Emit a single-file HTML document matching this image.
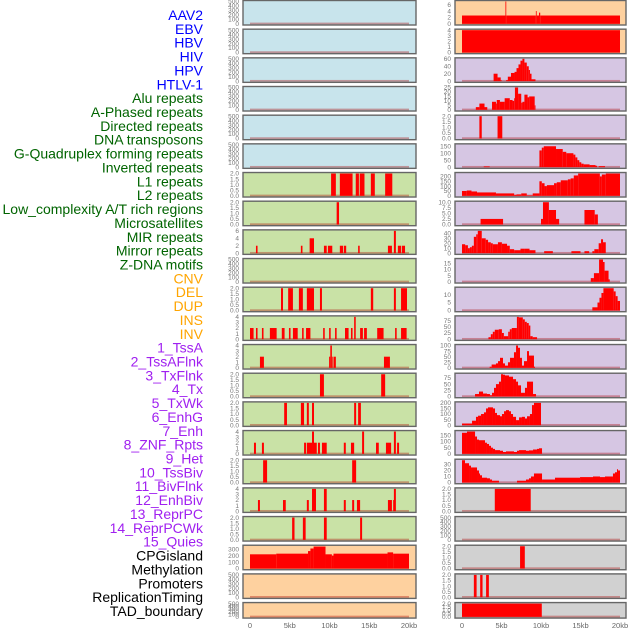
<!DOCTYPE html>
<html><head><meta charset="utf-8">
<style>
html,body{margin:0;padding:0;background:#fff;}
svg{display:block;font-family:"Liberation Sans",sans-serif;}
</style></head>
<body>
<svg id="chart" width="630" height="630" viewBox="0 0 630 630" xmlns="http://www.w3.org/2000/svg"></svg>
<script>
const rowLabels = ["AAV2","EBV","HBV","HIV","HPV","HTLV-1","Alu repeats","A-Phased repeats","Directed repeats","DNA transposons","G-Quadruplex forming repeats","Inverted repeats","L1 repeats","L2 repeats","Low_complexity A/T rich regions","Microsatellites","MIR repeats","Mirror repeats","Z-DNA motifs","CNV","DEL","DUP","INS","INV","1_TssA","2_TssAFlnk","3_TxFlnk","4_Tx","5_TxWk","6_EnhG","7_Enh","8_ZNF_Rpts","9_Het","10_TssBiv","11_BivFlnk","12_EnhBiv","13_ReprPC","14_ReprPCWk","15_Quies","CPGisland","Methylation","Promoters","ReplicationTiming","TAD_boundary"];
const labelGroups = [6,13,5,15,5];
const xTickLabels = ["0","5kb","10kb","15kb","20kb"];
const xTickValues = [0,5,10,15,20];

const T500 = ["0","100","200","300","400","500"];
const T2 = ["0.0","0.5","1.0","1.5","2.0"];
const T4 = ["0","1","2","3","4"];

const leftBg = ["b","b","b","b","b","b","g","g","g","g","g","g","g","g","g","g","g","g","g","o","o","o"];
const leftYmax = [500,500,500,500,500,500,2,2,6,500,2,4,4,2,2,4,2,4,2,345,500,500];
const leftTicks = [T500,T500,T500,T500,T500,T500,T2,T2,["0","2","4","6"],T500,T2,T4,T4,T2,T2,T4,T2,T4,T2,["0","100","200","300"],T500,T500];
const leftBars = [
 [],[],[],[],[],[],
 [[10.2,10.8,2],[11.3,12.9,2],[13.3,13.7,2],[13.8,14.4,2],[15.2,15.7,2],[17.0,17.9,2]],
 [[10.9,11.2,2]],
 [[0.75,0.95,2],[6.4,6.6,2],[7.5,8.05,4],[9.3,9.65,2],[9.8,10.35,2],[11.3,11.7,2],[11.8,12.1,2],[13.6,13.8,2],[17.35,17.85,2],[18.1,18.35,6],[18.6,19.0,2],[19.1,19.5,2]],
 [],
 [[3.9,4.15,2],[4.8,5.4,2],[6.15,6.65,2],[7.15,8.05,2],[8.8,9.05,2],[15.2,15.5,2],[18.1,18.35,2],[19.0,19.75,2]],
 [[0,0.45,2],[0.75,0.95,2],[1.5,1.7,2],[2.5,3.35,2],[4.0,4.35,2],[4.9,5.1,2],[5.4,6.0,2],[6.55,6.75,2],[7.05,7.6,2],[9.2,9.4,2],[9.95,10.15,2],[10.7,10.9,2],[11.95,12.4,2],[12.7,12.9,2],[13.1,13.3,4],[13.85,14.2,2],[14.35,14.7,2],[16.0,16.8,2],[18.25,18.45,2],[19.0,19.7,2]],
 [[1.25,1.75,2],[9.95,10.1,2],[10.1,10.3,4],[10.3,10.4,2],[10.5,10.8,2],[16.85,17.6,2]],
 [[8.8,9.3,2],[16.5,17.0,2]],
 [[4.3,4.65,2],[6.4,6.8,2],[7.15,7.4,2],[7.8,8.05,2],[13.1,13.35,2],[13.6,13.95,2]],
 [[0.5,0.75,2],[1.5,1.75,2],[6.8,7.05,2],[7.15,7.8,2],[7.8,8.05,4],[8.05,8.4,2],[8.55,8.8,2],[9.05,9.65,2],[11.8,12.05,2],[12.7,13.1,2],[14.1,14.35,4],[15.85,16.2,2],[17.1,17.75,2],[18.1,18.35,4],[18.5,18.75,2]],
 [[1.65,2.15,2],[12.85,13.35,2]],
 [[1.0,1.25,2],[4.15,4.5,2],[7.15,7.4,2],[7.8,8.3,4],[9.3,9.65,4],[11.8,12.05,2],[12.85,13.1,2],[13.45,13.85,2],[17.35,17.85,2],[18.0,18.1,2],[18.1,18.35,4]],
 [[5.3,5.6,2],[6.65,7.0,2],[9.3,9.65,2],[13.85,14.1,2]],
 [[0,3.3,220],[3.3,7.3,230],[7.3,7.6,270],[7.6,8.0,310],[8.0,9.5,340],[9.5,10.3,220],[10.3,10.5,200],[10.5,17.3,230],[17.3,18.0,250],[18.0,20,230]],
 [],[]
];

const rightBg = ["o","o","p","p","p","p","p","p","p","p","p","p","p","p","p","p","p","r","r","r","r","r"];
const rightYmax = [7,4,60,25,2,160,230,10,45,18,14,90,100,90,200,180,37,2,500,2,2,2];
const rightTicks = [["0","2","4","6"],T4,["0","20","40","60"],["0","5","10","15","20","25"],T2,["0","50","100","150"],["0","50","100","150","200"],["0.0","2.5","5.0","7.5","10.0"],["0","10","20","30","40"],["0","5","10","15"],["0","5","10"],["0","25","50","75"],["0","25","50","75","100"],["0","25","50","75"],["0","50","100","150","200"],["0","50","100","150"],["0","10","20","30"],T2,T500,T2,T2,T2];
const rightBars = [
 [[0,5.5,2.6],[5.5,5.6,7],[5.6,9.35,2.6],[9.35,9.45,4],[9.45,9.75,2.6],[9.75,9.9,3.5],[9.9,20,2.6]],
 [[0,20,4]],
 [[4.0,4.5,20],[4.5,4.9,10],[4.9,5.0,3],[5.6,5.8,3],[5.8,6.2,12],[6.2,6.65,22],[6.65,6.9,25],[6.9,7.15,35],[7.15,7.4,45],[7.4,7.65,55],[7.65,7.9,60],[7.9,8.2,50],[8.2,8.45,40],[8.45,8.6,30],[8.6,8.8,20],[8.8,9.3,5]],
 [[1.75,2.2,3],[2.2,2.85,7],[2.85,3.2,3],[3.8,4.3,9],[4.3,4.4,7],[4.4,4.8,11],[4.8,5.4,9],[5.4,6.05,13],[6.05,6.4,11],[6.4,6.6,10],[6.6,6.7,13],[6.7,7.1,25],[7.1,7.5,18],[7.5,7.65,8],[7.65,7.9,9],[7.9,8.3,17],[8.3,8.5,14],[8.5,9.2,15],[9.2,9.3,5]],
 [[2.2,2.5,2],[4.5,5.1,2]],
 [[2.75,3.5,5],[9.8,10.1,120],[10.1,10.35,140],[10.35,11.9,150],[11.9,12.75,130],[12.75,13.2,110],[13.2,14.1,100],[14.1,14.35,90],[14.35,14.6,70],[14.6,14.85,50],[14.85,15.1,35],[15.1,15.4,25],[15.4,16.15,20],[16.15,16.9,15],[16.9,17.1,10],[17.3,18.1,7]],
 [[0,0.6,50],[0.6,1.2,55],[1.2,1.9,45],[1.9,4.3,35],[4.3,6.6,25],[6.6,6.9,10],[6.9,7.5,15],[7.5,8.2,25],[8.2,8.95,5],[8.95,9.8,25],[9.8,10.1,150],[10.1,10.45,130],[10.45,10.75,100],[10.75,11.65,110],[11.65,12.0,130],[12.0,12.5,140],[12.5,13.4,160],[13.4,13.75,170],[13.75,14.15,180],[14.15,14.7,210],[14.7,17.45,230],[17.45,17.7,200],[17.7,18.2,220],[18.2,20,230]],
 [[2.35,5.2,2.5],[10.0,10.25,2.5],[10.25,11.0,10],[11.0,11.9,6.5],[11.9,12.3,2.5],[15.5,16.8,6.5],[16.8,17.2,4.5]],
 [[0,0.4,18],[0.4,0.75,16],[0.75,1.0,10],[1.0,1.25,12],[1.25,1.5,15],[1.5,1.8,33],[1.8,2.0,38],[2.0,2.5,45],[2.5,3.0,30],[3.0,3.3,27],[3.3,3.65,22],[3.65,3.9,20],[3.9,4.55,18],[4.55,5.05,22],[5.05,5.7,19],[5.7,6.05,15],[6.05,6.6,8],[6.6,7.4,6],[7.4,7.9,9],[7.9,8.55,9],[8.55,9.3,6],[10.4,11.5,4],[13.85,15.0,4],[15.5,16.1,4],[16.5,16.75,4],[16.75,17.3,8],[17.3,17.6,20],[17.6,17.85,28],[17.85,18.2,22]],
 [[16.3,16.7,3],[16.7,17.35,7],[17.35,17.85,18],[17.85,18.05,16],[18.05,18.55,9],[18.55,18.7,2]],
 [[16.5,17.15,2],[17.15,17.4,5],[17.4,17.65,8],[17.65,17.9,11],[17.9,19.2,14],[19.2,19.45,12],[19.45,19.7,9],[19.7,20,6]],
 [[3.35,3.65,8],[3.65,3.9,20],[3.9,4.15,30],[4.15,4.65,38],[4.65,5.05,40],[5.05,5.3,25],[5.3,5.85,12],[5.85,6.05,30],[6.05,6.3,40],[6.3,6.95,45],[6.95,7.2,90],[7.2,7.7,88],[7.7,7.95,80],[7.95,8.2,70],[8.2,8.45,65],[8.45,8.65,55],[8.65,8.95,12],[8.95,9.5,8]],
 [[3.5,3.75,5],[3.75,4.3,15],[4.3,4.56,20],[4.56,4.81,30],[4.81,5.19,45],[5.19,5.44,20],[5.44,5.82,10],[5.82,6.08,25],[6.08,6.58,45],[6.58,6.84,70],[6.84,7.09,100],[7.09,7.34,90],[7.34,7.59,45],[7.59,7.85,10],[7.85,8.23,30],[8.23,8.48,75],[8.48,9.11,55],[9.11,9.24,5]],
 [[1.65,2.15,10],[2.15,2.66,20],[2.66,3.16,12],[3.16,3.54,10],[3.54,3.8,5],[3.8,4.05,15],[4.05,4.3,35],[4.3,4.68,50],[4.68,4.94,60],[4.94,5.19,90],[5.19,5.44,88],[5.44,5.95,85],[5.95,6.46,80],[6.46,6.84,70],[6.84,7.09,60],[7.09,7.47,45],[7.47,7.97,15],[7.97,8.23,35],[8.23,8.99,60],[8.99,9.37,10]],
 [[0,1.27,15],[1.27,1.77,40],[1.77,2.03,75],[2.03,2.41,85],[2.41,2.78,100],[2.78,3.04,115],[3.04,3.29,150],[3.29,3.92,160],[3.92,4.18,150],[4.18,4.43,110],[4.43,4.81,90],[4.81,5.06,80],[5.06,5.32,100],[5.32,5.57,125],[5.57,5.95,135],[5.95,6.2,125],[6.2,6.46,100],[6.46,6.84,75],[6.84,7.22,45],[7.22,7.59,70],[7.59,7.97,75],[7.97,8.23,60],[8.23,8.6,80],[8.6,8.86,100],[8.86,9.11,180],[9.11,10.0,200]],
 [[0,0.63,170],[0.63,1.65,180],[1.65,1.9,140],[1.9,2.15,115],[2.15,2.91,110],[2.91,3.16,90],[3.16,3.42,80],[3.42,3.67,65],[3.67,3.92,50],[3.92,4.18,40],[4.18,4.81,30],[4.81,5.19,25],[5.19,5.57,15],[5.57,6.58,20],[6.58,6.96,15],[6.96,7.22,25],[7.22,8.1,30],[8.1,8.48,25],[8.48,8.99,28],[8.99,9.49,35],[9.49,9.75,40],[9.75,10.13,45]],
 [[0,0.38,37],[0.38,0.89,32],[0.89,1.14,28],[1.14,1.9,25],[1.9,2.15,20],[2.15,2.28,15],[2.28,2.53,12],[2.53,3.16,8],[3.16,3.54,7],[3.54,3.8,5],[3.8,4.68,3],[6.96,8.1,3],[8.1,8.48,5],[8.48,8.73,7],[8.73,9.11,10],[9.11,10.13,15],[10.13,11.77,5],[11.77,14.94,8],[14.94,16.58,9],[16.58,17.47,10],[17.47,18.1,9],[18.1,19.11,10],[19.11,19.37,15],[19.37,19.62,17],[19.62,19.75,22],[19.75,20,20]],
 [[4.15,8.7,2]],
 [],
 [[7.35,7.95,2]],
 [[1.5,1.85,2],[2.3,2.6,2],[3.05,3.4,2]],
 [[0,10.1,2]]
];

const NS = "http://www.w3.org/2000/svg";
const svg = document.getElementById("chart");
const bgColors = {b:"#c8e4ec", g:"#c9e2a6", o:"#fed19f", p:"#d6c6e3", r:"#d1d1d1"};
const groupColors = ["#0000ff","#006400","#ffa500","#a020f0","#000000"];
const ROW0 = 0.5, PITCH = 28.67;
function el(tag, attrs, parent){
  const e = document.createElementNS(NS, tag);
  for (const k in attrs) e.setAttribute(k, attrs[k]);
  (parent||svg).appendChild(e);
  return e;
}
function rowTop(i){ return ROW0 + i*PITCH; }
function rowH(i){ return i===21 ? 15.5 : 24.5; }

let li = 0;
labelGroups.forEach((n, g) => {
  for (let k=0;k<n;k++){
    const t = el("text", {x:203, y:(15 + li*13.86 + 5).toFixed(1), "text-anchor":"end", "font-size":"14", fill:groupColors[g]});
    
    
    t.textContent = rowLabels[li];
    li++;
  }
});

function drawPanel(side, i, bgKey, ymax, ticks, bars){
  const px0 = side==="L" ? 243 : 455;
  const pw = side==="L" ? 173 : 171;
  const d0 = side==="L" ? 250 : 462;
  const d1 = side==="L" ? 409 : 620;
  const xs = kb => d0 + (kb/20)*(d1-d0);
  const T = rowTop(i), H = rowH(i);
  const ys = v => T + H - 1.2 - (v/ymax)*(H-2.2);
  const g = el("g", {});
  
  
  el("rect", {x:px0, y:T, width:pw, height:H, fill:bgColors[bgKey]}, g);
  el("rect", {x:xs(0), y:ys(0)-1.2, width:xs(20)-xs(0), height:1.8, fill:"rgba(170,0,0,0.35)"}, g);
  bars.forEach(b => {
    const r = el("rect", {x:xs(b[0]).toFixed(2), y:ys(b[2]).toFixed(2), width:Math.max(0.8, xs(b[1])-xs(b[0])).toFixed(2), height:(ys(0)-ys(b[2])).toFixed(2), fill:"#ff0000"}, g);
    
    
  });
  el("rect", {x:px0, y:T, width:pw, height:H, fill:"none", stroke:"#666", "stroke-width":"1.4"}, g);
  ticks.forEach((lab, k) => {
    const v = parseFloat(lab);
    const t = el("text", {x:px0-4, y:(ys(v)+2.2).toFixed(1), "text-anchor":"end", "font-size":"6.5", fill:"#777"}, g);
    
    
    t.textContent = lab;
  });
}
for (let i=0;i<22;i++){
  drawPanel("L", i, leftBg[i], leftYmax[i], leftTicks[i], leftBars[i]);
  drawPanel("R", i, rightBg[i], rightYmax[i], rightTicks[i], rightBars[i]);
}
[[250,409],[462,620]].forEach(([a,b], s) => {
  xTickValues.forEach((v, k) => {
    const t = el("text", {x:(a + v/20*(b-a)).toFixed(1), y:628, "text-anchor":"middle", "font-size":"7.5", fill:"#666"});
    
    
    t.textContent = xTickLabels[k];
  });
});
</script>
</body></html>
